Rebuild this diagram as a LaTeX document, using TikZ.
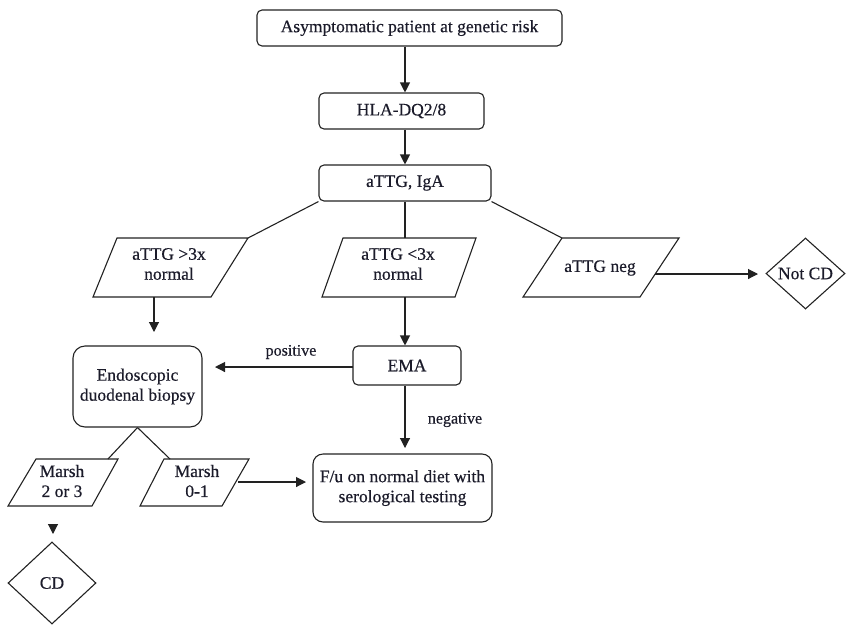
\documentclass[tikz,border=0pt]{standalone}
\usepackage{fontspec}
\setmainfont{Liberation Serif}
\newfontfamily\diafont[FakeBold=0.5]{Liberation Serif}
\usetikzlibrary{arrows.meta,shapes.geometric}
\definecolor{linec}{HTML}{222222}
\definecolor{txtc}{HTML}{1B1B2A}
\begin{document}
\begin{tikzpicture}[x=1pt,y=-1pt,
  every node/.style={text=txtc, font=\diafont\fontsize{17.5}{20}\selectfont},
  box/.style={draw=linec, line width=1.1pt, rounded corners=5pt, inner sep=0pt, align=center},
  dia/.style={draw=linec, line width=1.1pt, diamond, inner sep=0pt},
  para/.style={draw=linec, line width=1.1pt, line join=miter},
  txt/.style={align=center, inner sep=0pt},
  ln/.style={draw=linec, line width=1.1pt},
  arr/.style={draw=linec, line width=1.1pt, -{Triangle[length=10pt,width=10pt]}},
  lbl/.style={inner sep=0pt, font=\diafont\fontsize{16}{18}\selectfont}]
\useasboundingbox (0,0) rectangle (846,625);

% boxes
\node[box, minimum width=305pt, minimum height=36pt] (top) at (409.5,28) {Asymptomatic patient at genetic risk};
\node[box, minimum width=165pt, minimum height=36pt] (hla) at (401.5,111) {HLA-DQ2/8};
\node[box, minimum width=172pt, minimum height=36pt] (attg) at (405,183) {aTTG, IgA};
\node[box, minimum width=108pt, minimum height=39pt] (ema) at (407,365.5) {EMA};
\node[box, rounded corners=12pt, minimum width=129pt, minimum height=81pt] (endo) at (137.5,386.5) {Endoscopic\\duodenal biopsy};
\node[box, rounded corners=10pt, minimum width=179pt, minimum height=68pt] (fu) at (402.5,488) {F/u on normal diet with\\serological testing};

% diamonds
\node[dia, minimum width=79pt, minimum height=71pt, aspect=1.11] (notcd) at (805.5,273.5) {Not CD};
\node[dia, minimum width=88pt, minimum height=82pt, aspect=1.07] (cd) at (52,583) {CD};

% parallelograms
\coordinate (p1tl) at (117,238); \coordinate (p1tr) at (248,238);
\coordinate (p1br) at (211,297); \coordinate (p1bl) at (93,297);
\draw[para] (p1tl) -- (p1tr) -- (p1br) -- (p1bl) -- cycle;
\node[txt] (p1) at (169,264) {aTTG >3x\\normal};

\coordinate (p2tl) at (343,238); \coordinate (p2tr) at (476,238);
\coordinate (p2br) at (455,297); \coordinate (p2bl) at (322,297);
\draw[para] (p2tl) -- (p2tr) -- (p2br) -- (p2bl) -- cycle;
\node[txt] (p2) at (398,264) {aTTG <3x\\normal};

\coordinate (p3tl) at (562,238); \coordinate (p3tr) at (679,238);
\coordinate (p3br) at (640,297); \coordinate (p3bl) at (523,297);
\draw[para] (p3tl) -- (p3tr) -- (p3br) -- (p3bl) -- cycle;
\node[txt] (p3) at (600,268) {aTTG neg};

\coordinate (p4tl) at (36,459); \coordinate (p4tr) at (118,459);
\coordinate (p4br) at (92,506); \coordinate (p4bl) at (8,506);
\draw[para] (p4tl) -- (p4tr) -- (p4br) -- (p4bl) -- cycle;
\node[txt] (p4) at (62,481) {Marsh\\2 or 3};

\coordinate (p5tl) at (164,459); \coordinate (p5tr) at (249,459);
\coordinate (p5br) at (222,506); \coordinate (p5bl) at (140,506);
\draw[para] (p5tl) -- (p5tr) -- (p5br) -- (p5bl) -- cycle;
\node[txt] (p5) at (197,481) {Marsh\\0-1};

% edge labels
\node[lbl] (lpos) at (291,352) {positive};
\node[lbl] (lneg) at (455,420) {negative};

% connector helper coordinates
\coordinate (p1b) at (154,297);
\coordinate (e1) at (154,332);
\coordinate (p2t) at (405,238);
\coordinate (p2b) at (405,297);
\coordinate (endoR) at (215,367);
\coordinate (emaL) at (353,367);
\coordinate (fuT) at (405,448);
\coordinate (p3r) at (655,274);
\coordinate (ncL) at (758,274);
\coordinate (m1) at (108,459);
\coordinate (m2) at (170,459);
\coordinate (p5r) at (238,482);
\coordinate (fuL) at (306,482);
\coordinate (p4b) at (53,525);
\coordinate (cdT) at (53,534);

% connectors
\draw[arr] (top.south -| attg.north) -- (hla.north -| attg.north);
\draw[arr] (hla.south -| attg.north) -- (attg.north);
\draw[ln] (attg.south west) -- (p1tr);
\draw[ln] (attg.south) -- (p2t);
\draw[ln] (attg.south east) -- (p3tl);
\draw[arr] (p1b) -- (e1);
\draw[arr] (p2b) -- (p2b |- ema.north);
\draw[arr] (emaL) -- (endoR);
\draw[arr] (p2b |- ema.south) -- (fuT);
\draw[arr] (p3r) -- (ncL);
\draw[ln] (endo.south) -- (m1);
\draw[ln] (endo.south) -- (m2);
\draw[arr] (p5r) -- (fuL);
\draw[arr] (p4b) -- (cdT);
\end{tikzpicture}
\end{document}
